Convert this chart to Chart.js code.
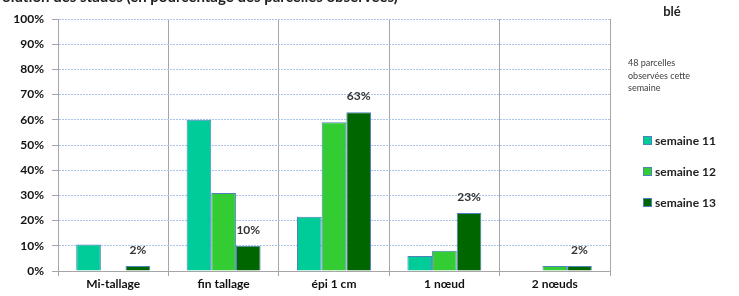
<!DOCTYPE html>
<html>
<head>
<meta charset="utf-8">
<script src="https://cdn.jsdelivr.net/npm/chart.js@4.4.1/dist/chart.umd.min.js"></script>
<style>
    html, body { margin: 0; padding: 0; background: #fff; }
    #wrap { position: relative; width: 739px; height: 296px; overflow: hidden; font-family: Lato, sans-serif; }
    #chart { position: absolute; left: 0; top: 0; }
    .title { position: absolute; left: -14px; top: -13px; font-size: 15px; font-weight: bold; color: #222; white-space: nowrap; }
    .crop { position: absolute; left: 672px; top: 3px; transform: translateX(-50%); font-size: 13px; font-weight: bold; color: #222; }
    .note { position: absolute; left: 628px; top: 57px; font-size: 9px; line-height: 12.5px; color: #404040; }
    .legend-item { position: absolute; left: 643px; font-size: 12px; font-weight: bold; color: #222; white-space: nowrap; }
    .legend-item span { display: inline-block; width: 7px; height: 7px; border: 1px solid #4F81BD; margin-right: 3px; vertical-align: 0px; }
</style>
</head>
<body>
<div id="wrap">
    <canvas id="chart" width="739" height="296"></canvas>
    <div class="title">Evolution des stades (en pourcentage des parcelles observées)</div>
    <div class="crop">blé</div>
    <div class="note">48 parcelles<br>observées cette<br>semaine</div>
    <div id="legend"></div>
</div>
<script>
// Data
const stages = ['Mi-tallage', 'fin tallage', 'épi 1 cm', '1 nœud', '2 nœuds'];
const week11 = [10.5, 60, 21.5, 6, 0];
const week12 = [0, 31, 59, 8, 2];
const week13 = [2, 10, 63, 23, 2];
const weekNames = ['semaine 11', 'semaine 12', 'semaine 13'];
const weekColors = ['#00CC99', '#33CC33', '#006600'];
const yMax = 100;
const yStep = 10;

const font = 'Lato, sans-serif';

// Labels above the last week's bars only
const lastWeekLabels = {
    id: 'lastWeekLabels',
    afterDatasetsDraw(chart) {
        const ctx = chart.ctx;
        const meta = chart.getDatasetMeta(2);
        ctx.save();
        ctx.font = 'bold 12px ' + font;
        ctx.fillStyle = '#333';
        ctx.textAlign = 'center';
        ctx.textBaseline = 'middle';
        meta.data.forEach((bar, i) => {
            ctx.fillText(Math.round(week13[i]) + '%', bar.x, bar.y - 16);
        });
        ctx.restore();
    }
};

const series = [week11, week12, week13];

new Chart(document.getElementById('chart').getContext('2d'), {
    type: 'bar',
    data: {
        labels: stages,
        datasets: series.map((values, i) => ({
            label: weekNames[i],
            data: values,
            backgroundColor: weekColors[i],
            borderColor: '#4F81BD',
            borderWidth: 1,
            categoryPercentage: 0.67,
            barPercentage: 1
        }))
    },
    options: {
        responsive: false,
        animation: false,
        layout: { padding: { top: 19, right: 129, left: 0, bottom: 0 } },
        plugins: {
            legend: { display: false },
            tooltip: { enabled: false }
        },
        scales: {
            x: {
                afterFit: s => { s.height = 25; },
                grid: { color: '#a6a6a6', tickLength: 5, offset: true },
                border: { color: '#a6a6a6' },
                ticks: { color: '#111', font: { family: font, size: 12, weight: 'bold' }, padding: 1 }
            },
            y: {
                min: 0,
                max: yMax,
                afterFit: s => { s.width = 58; },
                grid: { color: '#a9c4e8', tickColor: '#a6a6a6', tickLength: 6 },
                border: { color: '#a6a6a6', dash: [2, 1] },
                ticks: {
                    stepSize: yStep,
                    padding: 8,
                    color: '#111',
                    font: { family: font, size: 12, weight: 'bold' },
                    callback: v => v + '%'
                }
            }
        }
    },
    plugins: [lastWeekLabels]
});

// Legend on the right
const legend = document.getElementById('legend');
const legendTops = [133, 164, 195];
weekNames.forEach((name, i) => {
    const item = document.createElement('div');
    item.className = 'legend-item';
    item.style.top = legendTops[i] + 'px';
    item.innerHTML = '<span style="background:' + weekColors[i] + '"></span>' + name;
    legend.appendChild(item);
});
</script>
</body>
</html>
